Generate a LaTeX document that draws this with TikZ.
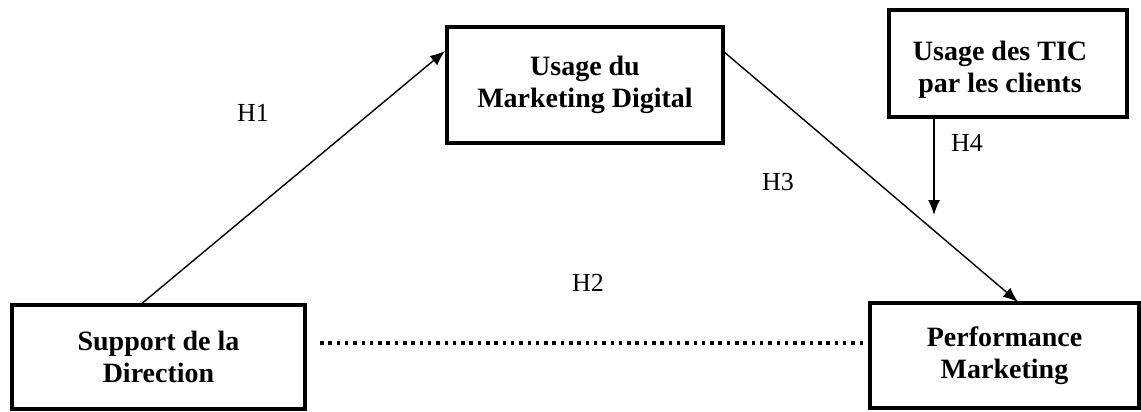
\documentclass[tikz,border=0pt]{standalone}
\usepackage{fontspec}
\setmainfont{Liberation Serif}
\usetikzlibrary{arrows.meta}
\begin{document}
\begin{tikzpicture}[x=1pt,y=-1pt,
  box/.style={draw,line width=3.8pt,rectangle,inner sep=0pt,align=center,
    font=\bfseries\fontsize{28}{32}\selectfont},
  link/.style={line width=1.4pt,-{Latex[length=15pt,width=12pt]}},
  hyp/.style={font=\fontsize{26}{30}\selectfont,inner sep=0pt}]
  \useasboundingbox (0,0) rectangle (1141,412);

  % constructs
  \node[box,minimum width=293pt,minimum height=104pt] (sup) at (158.5,357) {Support de la\\Direction};
  \node[box,minimum width=269pt,minimum height=105pt] (perf) at (1004.5,355.5) {Performance\\Marketing};
  \node[box,minimum width=276pt,minimum height=116pt] (md) at (585,85) {Usage du\\Marketing Digital};
  \node[box,minimum width=238pt,minimum height=107pt] (tic) at (1008,63.5) {};
  \node[font=\bfseries\fontsize{28}{32}\selectfont,align=center,inner sep=0pt] (tictext) at (1000,70) {Usage des TIC\\par les clients};

  % hypothesised paths
  \coordinate (h1s) at (140,305);
  \coordinate (h1e) at (445,51);
  \draw[link] (h1s) -- (h1e);
  \coordinate (h3s) at (723,51);
  \coordinate (h3e) at (1018,302);
  \draw[link] (h3s) -- (h3e);
  \coordinate (h4s) at (934,119);
  \coordinate (h4e) at (934,215);
  \draw[link] (h4s) -- (h4e);
  \coordinate (h2s) at (320,343);
  \coordinate (h2e) at (868,343);
  \draw[line width=4.5pt,dash pattern=on 3.5pt off 4.8pt] (h2s) -- (h2e);

  % hypothesis labels
  \node[hyp] (lh1) at (253,113) {H1};
  \node[hyp] (lh2) at (588,283) {H2};
  \node[hyp] (lh3) at (778,182) {H3};
  \node[hyp] (lh4) at (967,143) {H4};
\end{tikzpicture}
\end{document}
